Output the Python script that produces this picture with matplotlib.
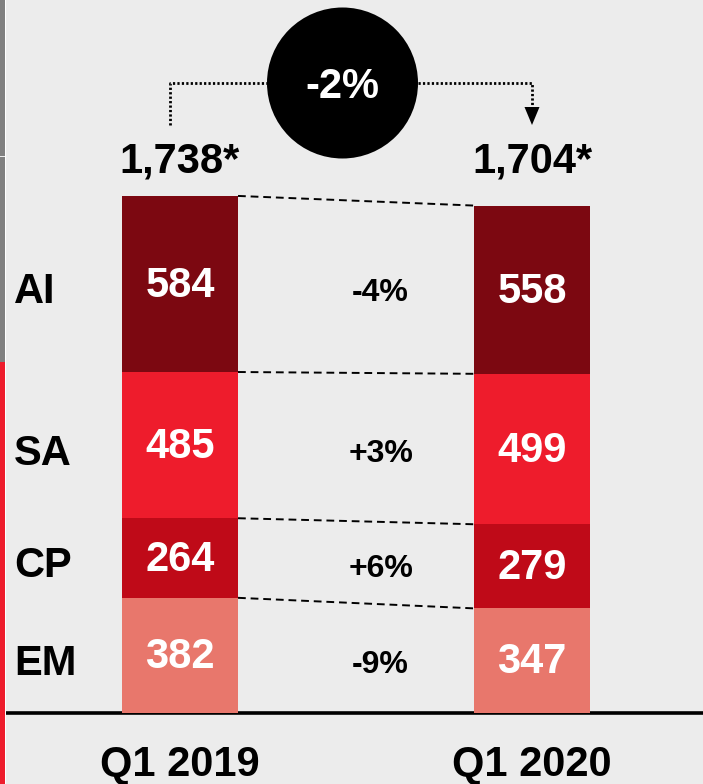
import numpy as np
import matplotlib
matplotlib.use("Agg")
import matplotlib.pyplot as plt
from matplotlib.patches import Circle, Rectangle, Polygon

plt.rcParams['font.family'] = ['Liberation Sans', 'DejaVu Sans']
plt.rcParams['font.weight'] = 'bold'

# data
periods = ["Q1 2019", "Q1 2020"]
segments = ["EM", "CP", "SA", "AI"]          # bottom -> top
vals_2019 = [382, 264, 485, 584]
vals_2020 = [347, 279, 499, 558]
totals = ["1,738*", "1,704*"]
total_growth = "-2%"
colors = ["#e8776c", "#bf0a18", "#ee1c2c", "#7c0811"]

bg = "#ececec"
W, H = 703, 784
fig = plt.figure(figsize=(W / 100, H / 100), dpi=100, facecolor=bg)

# pixel overlay for decorations
ov = fig.add_axes([0, 0, 1, 1], zorder=0)
ov.set_xlim(0, W)
ov.set_ylim(H, 0)
ov.axis("off")
ov.set_facecolor(bg)

# main data axes: baseline at y=713px, 0.3015 px per unit
base_px = 713
scale = 0.3015
ax = fig.add_axes([0, (H - base_px) / H, 1, base_px / H], zorder=1)
ax.patch.set_alpha(0)
ax.set_ylim(0, base_px / scale)
c0, step = 180, 352
ax.set_xlim((0 - c0) / step, (W - c0) / step)
for s in ax.spines.values():
    s.set_visible(False)
ax.set_yticks([])

bw = 116 / step
x = np.arange(len(periods))
data = np.array([vals_2019, vals_2020])
bottoms = np.zeros(2)
for i, seg in enumerate(segments):
    v = data[:, i]
    ax.bar(x, v, bw, bottom=bottoms, color=colors[i], linewidth=0)
    for j in range(2):
        ax.text(x[j], bottoms[j] + v[j] / 2 - 6, str(v[j]), color="white",
                fontsize=30, fontweight="bold", ha="center", va="center")
    # category label on the left
    ax.text((14 - c0) / step, bottoms[0] + v[0] / 2 - 28, seg, color="black",
            fontsize=30, fontweight="bold", ha="left", va="center")
    # change label
    chg = (v[1] / v[0] - 1) * 100
    ax.text(0.57, (bottoms[0] + bottoms[1] + v[0] / 2 + v[1] / 2) / 2 - 22,
            f"{chg:+.0f}%", color="black",
            fontsize=23, fontweight="bold", ha="center", va="center")
    bottoms = bottoms + v
    # dashed connector at top of this segment
    ax.plot([x[0] + bw / 2, x[1] - bw / 2], [bottoms[0], bottoms[1]],
            color="black", lw=1.4, linestyle=(0, (4, 2.5)))

# totals
for j in range(2):
    ax.text(x[j], (base_px - 161) / scale, totals[j], color="black",
            fontsize=30, fontweight="bold", ha="center", va="center")

ax.set_xticks(x, periods)
ax.tick_params(axis="x", length=0, pad=23, labelsize=30)

# baseline
ov.plot([6, W], [base_px, base_px], color="black", lw=2.6, solid_capstyle="butt")

# left strip
ov.add_patch(Rectangle((0, 0), 5, 155.5, color="#808080", lw=0))
ov.add_patch(Rectangle((0, 157), 5, 205, color="#808080", lw=0))
ov.add_patch(Rectangle((0, 362), 5, H - 362, color="#ee1c2c", lw=0))
ov.add_patch(Rectangle((5, 0), 1.2, H, color="white", lw=0))

# growth circle and bracket
ov.add_patch(Circle((342.5, 83), 75.5, color="black", lw=0, zorder=3))
ov.text(342.5, 87, total_growth, color="white", fontsize=30, fontweight="bold",
        ha="center", va="center", zorder=4)
dot = dict(color="black", lw=2.0, linestyle=(0, (0.8, 0.8)))
ov.plot([170, 170, 267], [125, 83, 83], **dot)
ov.plot([418, 532, 532], [83, 83, 107], **dot)
ov.add_patch(Polygon([[524.5, 107], [539.5, 107], [532, 125]], color="black", lw=0))

fig.savefig("out.png", dpi=100, facecolor=bg)
